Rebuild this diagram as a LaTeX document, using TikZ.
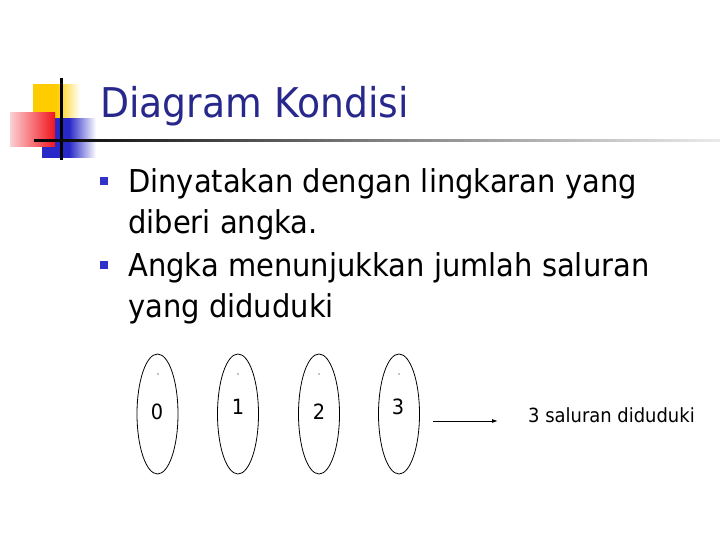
\documentclass[tikz,border=0pt]{standalone}
\usepackage{fontspec}
\setmainfont{DejaVu Sans}[FakeStretch=0.92]
\usetikzlibrary{arrows.meta,shapes.geometric}
\definecolor{titleblue}{RGB}{40,40,140}
\definecolor{bulblue}{RGB}{50,50,200}
\definecolor{logoyellow}{RGB}{255,204,0}
\definecolor{logored}{RGB}{240,20,30}
\definecolor{logoblue}{RGB}{40,40,200}
\tikzset{
  state/.style={draw=black, line width=0.8pt, ellipse, minimum width=41pt, minimum height=120pt, inner sep=0pt},
  bodytext/.style={anchor=base west, inner sep=0pt, font=\fontsize{31.5}{34}\selectfont},
  bul/.style={fill=bulblue, minimum size=8pt, inner sep=0pt},
  numlab/.style={inner sep=0pt, font=\fontsize{21}{24}\selectfont},
}
\begin{document}
\begin{tikzpicture}[x=1pt,y=1pt]
\useasboundingbox (0,0) rectangle (720,540);
% logo
\shade[left color=logoyellow, right color=white, middle color=logoyellow] (33,422) rectangle (80,455);
\shade[left color=logoblue, right color=white, middle color=logoblue] (42,382) rectangle (96,421);
\shade[left color=white!80!logored, right color=logored] (10,393) rectangle (55,427);
\fill[black] (60,380) rectangle (62.5,462);
\shade[left color=black, right color=black!8, middle color=black!50] (34,398) rectangle (720,400.5);
% title
\node[anchor=base west, inner sep=0pt, text=titleblue, font=\fontsize{41}{46}\selectfont] (title) at (100,422) {Diagram Kondisi};
% bullets
\node[bul] (b1) at (104,359) {};
\node[bul] (b2) at (104,275) {};
\node[bodytext] (t1) at (128,347) {Dinyatakan dengan lingkaran yang};
\node[bodytext] (t2) at (128,306) {diberi angka.};
\node[bodytext] (t3) at (128,263) {Angka menunjukkan jumlah saluran};
\node[bodytext] (t4) at (128,222) {yang diduduki};
% states
\node[state] (e0) at (157.5,126) {};
\node[state] (e1) at (238,126) {};
\node[state] (e2) at (319,126) {};
\node[state] (e3) at (399,126) {};
\node[numlab] (n0) at (157,128) {0};
\node[numlab] (n1) at (238,133) {1};
\node[numlab] (n2) at (319,128) {2};
\node[numlab] (n3) at (398,133) {3};
\foreach \x in {158,238,319,399} \fill (\x,166) circle (0.6);
% arrow
\node[anchor=west, inner sep=0pt, font=\fontsize{19.5}{22}\selectfont] (res) at (528,125) {3 saluran diduduki};
\coordinate (a0) at (433,119);
\coordinate (a1) at (498,119);
\draw[line width=0.9pt, -{Latex[length=6pt,width=4pt]}] (a0) -- (a1);
\end{tikzpicture}
\end{document}
